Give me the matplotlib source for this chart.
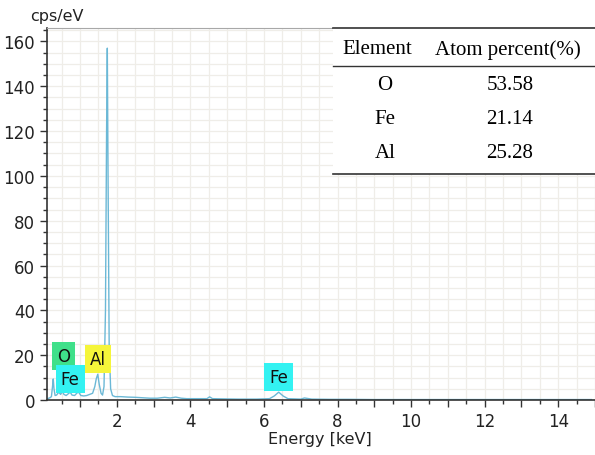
import matplotlib.pyplot as plt
from matplotlib.ticker import MultipleLocator, FuncFormatter

# EDS spectrum (energy keV, counts cps/eV)
energy = [0.10, 0.18, 0.22, 0.25, 0.27, 0.29, 0.32, 0.36, 0.42, 0.47, 0.52, 0.56, 0.62,
          0.68, 0.73, 0.78, 0.85, 0.92, 0.96, 1.02, 1.10, 1.18, 1.26, 1.34, 1.40,
          1.44, 1.48, 1.52, 1.57, 1.61, 1.65, 1.69, 1.72, 1.74, 1.76, 1.79, 1.83,
          1.88, 1.95, 2.10, 2.30, 2.50, 2.70, 2.90, 3.10, 3.30, 3.45, 3.60, 3.75,
          3.90, 4.20, 4.45, 4.52, 4.60, 4.90, 5.30, 5.80, 6.15, 6.28, 6.40, 6.52,
          6.65, 7.00, 7.10, 7.30, 7.80, 8.30, 9.00, 10.0, 11.0, 12.0, 13.0, 14.0, 14.9]
counts = [0.5, 1.0, 1.5, 6.0, 9.4, 5.0, 2.0, 2.2, 3.5, 2.5, 3.8, 2.5, 2.0,
          2.8, 3.5, 2.2, 2.0, 3.2, 3.5, 2.0, 1.8, 2.0, 2.5, 3.0, 6.0,
          9.5, 11.5, 7.0, 3.0, 2.2, 6.0, 40.0, 120.0, 157.0, 100.0, 25.0, 5.0,
          2.0, 1.5, 1.5, 1.3, 1.2, 1.0, 0.8, 0.8, 1.2, 0.9, 1.3, 0.8,
          0.6, 0.6, 0.6, 1.4, 0.6, 0.5, 0.4, 0.4, 0.6, 1.8, 3.5, 1.8,
          0.6, 0.4, 0.9, 0.4, 0.3, 0.3, 0.2, 0.2, 0.2, 0.2, 0.2, 0.2, 0.2]

# peak labels: text, energy, height, box colour
peak_labels = ["O", "Fe", "Al", "Fe"]
peak_x = [0.54, 0.73, 1.49, 6.40]
peak_y = [19.6, 9.4, 18.3, 10.3]
peak_colors = ["#3fe08a", "#33f2f2", "#f5f53a", "#33f2f2"]

# composition table
elements = ["O", "Fe", "Al"]
atom_percent = ["53.58", "21.14", "25.28"]

fig = plt.figure(figsize=(5.95, 4.56), dpi=100)
ax = fig.add_axes([47 / 595, 55 / 456, 548 / 595, 372 / 456])

ax.plot(energy, counts, color="#6bb8d6", lw=1.0)
ax.set_xlim(0.1, 15.0)
ax.set_ylim(0, 166)

ax.xaxis.set_major_locator(MultipleLocator(1))
ax.xaxis.set_minor_locator(MultipleLocator(0.5))
ax.xaxis.set_major_formatter(FuncFormatter(lambda v, p: "%d" % v if int(round(v)) % 2 == 0 else ""))
ax.yaxis.set_major_locator(MultipleLocator(20))
ax.yaxis.set_minor_locator(MultipleLocator(5))
ax.grid(True, which="both", color="#efede8", lw=0.9)
ax.set_axisbelow(True)

ax.tick_params(which="major", length=5, width=1, color="#333333", labelsize=12, labelcolor="#222222")
ax.tick_params(which="minor", length=3, width=1, color="#333333")
for s in ["left", "bottom"]:
    ax.spines[s].set_color("#333333")
    ax.spines[s].set_linewidth(1.2)
ax.spines["top"].set_color("#a8a8a8")
ax.spines["right"].set_visible(False)

for t, x, y, c in zip(peak_labels, peak_x, peak_y, peak_colors):
    ax.text(x, y, t, ha="center", va="center", fontsize=12, color="#111111",
            bbox=dict(boxstyle="square,pad=0.3", fc=c, ec="none"))

fig.text(30 / 595, 1 - 17 / 456, "cps/eV", ha="left", va="center", fontsize=11.5, color="#222222")
fig.text(320 / 595, 1 - 440 / 456, "Energy [keV]", ha="center", va="center", fontsize=11.5, color="#222222")

# table drawn over the plot in figure coordinates
tl, tr = 333 / 595, 1.0
fig.patches.append(plt.Rectangle((tl, 1 - 175 / 456), tr - tl, (175 - 29) / 456,
                                 transform=fig.transFigure, fc="white", ec="none", zorder=5))
for yy, lw in [(29, 1.2), (67, 1.0), (175, 1.2)]:
    fig.add_artist(plt.Line2D([tl, tr], [1 - yy / 456] * 2, transform=fig.transFigure,
                              color="#333333", lw=lw, zorder=6))
serif = "Liberation Serif"
fig.text(377 / 595, 1 - 50 / 456, "Element", ha="center", va="center", fontsize=15,
         family=serif, zorder=7)
fig.text(508 / 595, 1 - 50 / 456, "Atom percent(%)", ha="center", va="center", fontsize=15,
         family=serif, zorder=7)
for i, (el, pc) in enumerate(zip(elements, atom_percent)):
    yy = 1 - (86 + i * 34) / 456
    fig.text(385 / 595, yy, el, ha="center", va="center", fontsize=15, family=serif, zorder=7)
    fig.text(510 / 595, yy, pc, ha="center", va="center", fontsize=15, family=serif, zorder=7)

fig.savefig("out.png", dpi=100)
